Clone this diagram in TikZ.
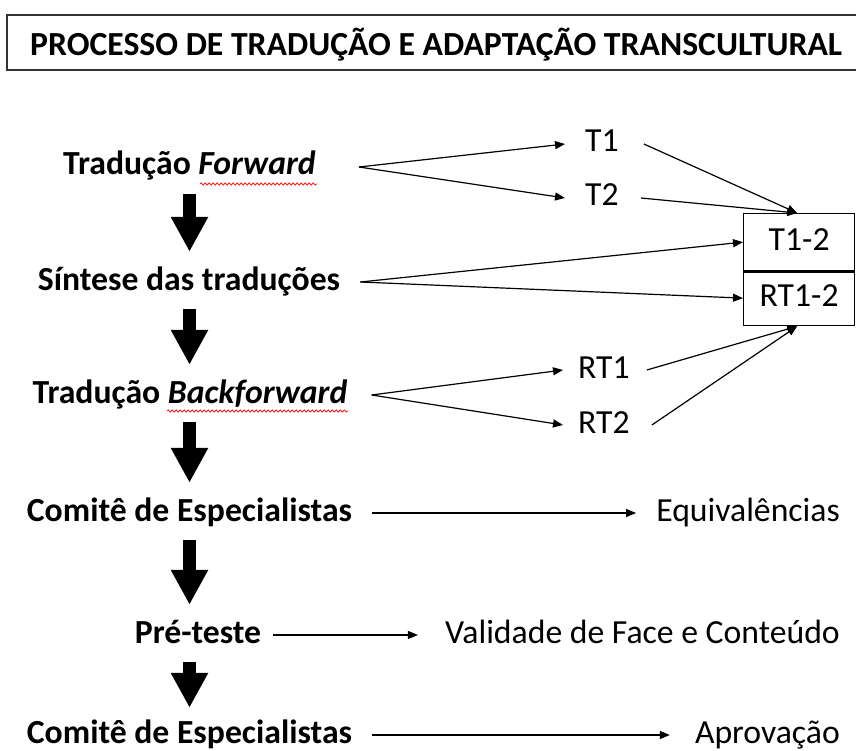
\documentclass[tikz,border=0pt]{standalone}
\usepackage{fontspec}
\setmainfont{Carlito}
\usetikzlibrary{arrows.meta,decorations.pathmorphing}
\begin{document}
\begin{tikzpicture}[x=1pt,y=-1pt,
  every node/.style={inner sep=0pt, font=\fontsize{33.7}{40}\selectfont},
  lbl/.style={font=\fontsize{33.7}{40}\selectfont\bfseries, text height=23pt, text depth=7pt, anchor=base},
  sm/.style={text height=23pt, text depth=7pt, anchor=base},
  bigarrow/.style={line width=13pt, -{Triangle[length=35pt,width=35pt]}, shorten <=12pt, shorten >=15pt},
  thinarrow/.style={line width=1.2pt, -{Triangle[length=10pt,width=8pt]}},
  boxnode/.style={draw, line width=1.3pt, minimum width=111pt, anchor=north west, text height=23pt, text depth=7pt},
  wave/.style={red, line width=0.7pt, decorate, decoration={snake, amplitude=1.2pt, segment length=4pt}}
]
\useasboundingbox (0,0) rectangle (856,751);
\clip (0,0) rectangle (856,751);

% title
\draw[line width=1.5pt, black!80] (7,15) rectangle (880,70);
\node[lbl, anchor=base west] (title) at (30,56) {PROCESSO DE TRADUÇÃO E ADAPTAÇÃO TRANSCULTURAL};

% main steps
\node[lbl] (fwd) at (189.5,175) {Tradução \textit{Forward}};
\node[lbl] (syn) at (189,290) {Síntese das traduções};
\node[lbl] (bwd) at (190,403) {Tradução \textit{Backforward}};
\node[lbl] (com1) at (189.5,521) {Comitê de Especialistas};
\node[lbl] (pre) at (198,643) {Pré-teste};
\node[lbl] (com2) at (189.5,743) {Comitê de Especialistas};

% spell-check underlines
\draw[wave] (200,184) -- (317,184);
\draw[wave] (167,411) -- (348,411);

% big arrows (vertical, in the column of the first step)
\draw[bigarrow] (fwd.south) -- (fwd.south |- syn.north);
\draw[bigarrow] (fwd.south |- syn.south) -- (fwd.south |- bwd.north);
\draw[bigarrow] (fwd.south |- bwd.south) -- (fwd.south |- com1.north);
\draw[bigarrow] (com1.south) -- (com1.south |- pre.north);
\draw[bigarrow, shorten >=12pt] (com2.north |- pre.south) -- (com2.north);

% right-side labels
\node[sm, anchor=base west] (t1) at (585,152) {T1};
\node[sm, anchor=base west] (t2) at (585,206) {T2};
\node[sm, anchor=base west] (rt1) at (578,378) {RT1};
\node[sm, anchor=base west] (rt2) at (578,433) {RT2};
\node[boxnode, minimum height=57pt] (t12) at (743,213) {T1-2};
\node[boxnode, minimum height=55pt] (rt12) at (743,270) {RT1-2};
\draw[line width=3pt] (t12.south west) -- (t12.south east);

\node[sm, anchor=base east] (equ) at (840,521) {Equivalências};
\node[sm, anchor=base east] (val) at (840,643) {Validade de Face e Conteúdo};
\node[sm, anchor=base east] (apr) at (840,743) {Aprovação};

% forward
\coordinate (fwdout) at ([xshift=43pt]fwd.east);
\draw[thinarrow] (fwdout) -- ([xshift=-20pt]t1.west);
\draw[thinarrow] (fwdout) -- ([xshift=-20pt]t2.west);
\draw[thinarrow] ([xshift=25pt]t1.east) -- ([xshift=-2pt]t12.north);
\draw[thinarrow] ([xshift=22pt]t2.east) -- ([xshift=-2pt]t12.north);

% synthesis
\coordinate (synout) at ([xshift=20pt]syn.east);
\draw[thinarrow] (synout) -- (t12.west);
\draw[thinarrow] (synout) -- (rt12.west);

% backforward
\coordinate (bwdout) at ([xshift=24pt]bwd.east);
\draw[thinarrow] (bwdout) -- ([xshift=-15pt]rt1.west);
\draw[thinarrow] (bwdout) -- ([xshift=-15pt]rt2.west);
\draw[thinarrow] ([xshift=17pt]rt1.east) -- ([xshift=-2pt]rt12.south);
\draw[thinarrow] ([xshift=22pt]rt2.east) -- ([xshift=-2pt]rt12.south);

% later steps
\draw[thinarrow] ([xshift=20pt]com1.east) -- ([xshift=-20pt]equ.west);
\draw[thinarrow] ([xshift=12pt]pre.east) -- ([xshift=-27pt]val.west);
\draw[thinarrow] ([xshift=20pt]com2.east) -- ([xshift=-25pt]apr.west);
\end{tikzpicture}
\end{document}
